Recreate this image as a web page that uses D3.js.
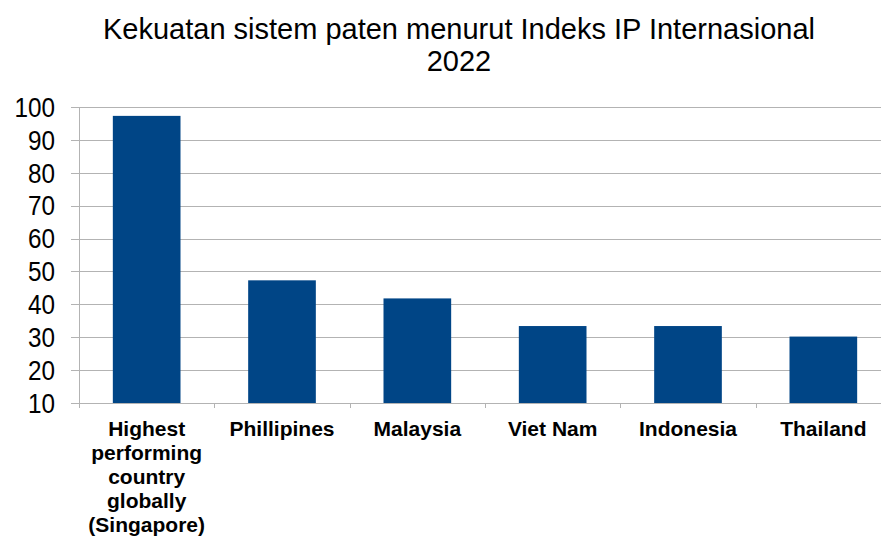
<!DOCTYPE html>
<meta charset="utf-8">
<style>
body { margin: 0; background: #fff; }
svg { display: block; font-family: "Liberation Sans", Arial, sans-serif; }
.grid line { stroke: #b3b3b3; stroke-width: 1px; }
.axis line { stroke: #b3b3b3; }
.xlab { font-weight: bold; font-size: 21px; fill: #000; text-anchor: middle; }
</style>
<svg width="881" height="537"></svg>
<script src="https://d3js.org/d3.v7.min.js"></script>
<script>

var titleLines = ["Kekuatan sistem paten menurut Indeks IP Internasional", "2022"];
var countries = [
  "Highest\nperforming\ncountry\nglobally\n(Singapore)",
  "Phillipines", "Malaysia", "Viet Nam", "Indonesia", "Thailand"
];
var scores = [97.3, 47.3, 41.8, 33.4, 33.4, 30.2];
var yTicks = [10, 20, 30, 40, 50, 60, 70, 80, 90, 100];

var svg = d3.select("svg"),
    plotLeft = 79, plotRight = 891, plotTop = 107, plotBottom = 403;

var x = d3.scaleBand()
    .domain(countries)
    .range([plotLeft, plotRight])
    .padding(0);

var y = d3.scaleLinear()
    .domain([10, 100])
    .range([plotBottom, plotTop]);

// title
svg.append("g").selectAll("text")
  .data(titleLines)
  .enter().append("text")
    .attr("x", 459)
    .attr("y", function(d, i) { return 39 + i * 32; })
    .attr("text-anchor", "middle")
    .style("font-size", "29px")
    .text(function(d) { return d; });

// gridlines
svg.append("g").attr("class", "grid")
  .selectAll("line")
  .data(yTicks)
  .enter().append("line")
    .attr("x1", plotLeft - 8)
    .attr("x2", 881)
    .attr("y1", function(d) { return Math.round(y(d)) + 0.5; })
    .attr("y2", function(d) { return Math.round(y(d)) + 0.5; });

// y labels (slightly narrow, like the original renderer)
svg.append("g").selectAll("text")
  .data(yTicks)
  .enter().append("text")
    .attr("transform", function(d) { return "translate(55," + y(d) + ") scale(0.9,1)"; })
    .attr("dy", "0.36em")
    .attr("text-anchor", "end")
    .style("font-size", "27px")
    .text(function(d) { return d; });

// bars
svg.append("g").selectAll("rect")
  .data(scores)
  .enter().append("rect")
    .attr("x", function(d, i) { return x(countries[i]) + x.bandwidth() * 0.25; })
    .attr("width", x.bandwidth() * 0.5)
    .attr("y", function(d) { return y(d); })
    .attr("height", function(d) { return y(10) - y(d); })
    .attr("fill", "#004586");

// axis line and ticks
var ax = svg.append("g").attr("class", "axis");
ax.append("line")
    .attr("x1", plotLeft + 0.5).attr("x2", plotLeft + 0.5)
    .attr("y1", plotTop).attr("y2", plotBottom + 5);
ax.selectAll(".tick")
  .data(countries.slice(1))
  .enter().append("line")
    .attr("x1", function(d) { return Math.round(x(d)) + 0.5; })
    .attr("x2", function(d) { return Math.round(x(d)) + 0.5; })
    .attr("y1", plotBottom)
    .attr("y2", plotBottom + 5);

// x labels
svg.append("g").selectAll("text")
  .data(countries)
  .enter().append("text")
    .attr("class", "xlab")
    .attr("x", function(d) { return x(d) + x.bandwidth() / 2; })
    .attr("y", 436)
    .each(function(d) {
      var t = d3.select(this);
      d.split("\n").forEach(function(line, i) {
        t.append("tspan")
          .attr("x", x(d) + x.bandwidth() / 2)
          .attr("dy", i ? 24 : 0)
          .text(line);
      });
    });

</script>
